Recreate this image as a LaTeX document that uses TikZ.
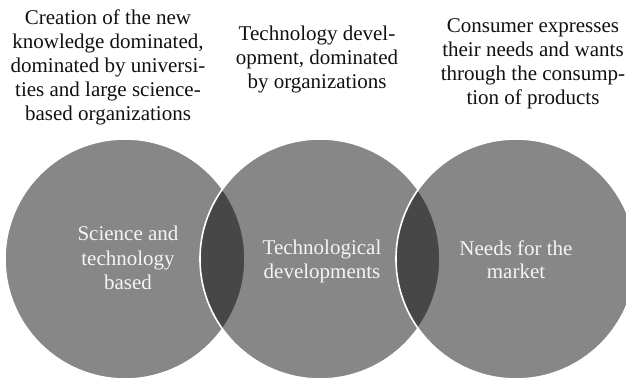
\documentclass[tikz,border=0pt]{standalone}
\usepackage{fontspec}
\setmainfont{Liberation Serif}
\usepackage{xcolor}
\usetikzlibrary{positioning}
\definecolor{ink}{HTML}{000000}
\definecolor{ring}{HTML}{FFFFFF}
\definecolor{inner}{HTML}{F4F4F4}
\definecolor{note}{HTML}{111111}
\tikzset{
  disc/.style={fill=ink, fill opacity=0.47, draw=ring, draw opacity=1, line width=1.6pt},
  lab/.style={text=inner, align=center, inner sep=0pt, font=\fontsize{21}{24}\selectfont},
  top/.style={text=note, align=center, inner sep=0pt, font=\fontsize{21}{24}\selectfont},
}

\begin{document}
\begin{tikzpicture}[x=1pt,y=-1pt]
  \clip (0,0) rectangle (626,379);
  \def\r{120pt}
  \coordinate (C1) at (125,259);
  \coordinate (C2) at (320,259);
  \coordinate (C3) at (516,259);
  \foreach \c in {C1,C2,C3}
    \draw[disc] (\c) circle[radius=\r];
  % labels inside the circles
  \node[lab, anchor=base] (sci) at (128,289) {Science and\\technology\\based};
  \node[lab, anchor=base] (tech) at (322,278) {Technological\\developments};
  \node[lab, anchor=base] (need) at (516,279) {Needs for the\\market};
  % notes above
  \node[top, anchor=base] (know) at (108,121) {Creation of the new\\knowledge dominated,\\dominated by universi-\\ties and large science-\\based organizations};
  \node[top, anchor=base] (org) at (317,89) {Technology devel-\\opment, dominated\\by organizations};
  \node[top, anchor=base] (cons) at (533,105) {Consumer expresses\\their needs and wants\\through the consump-\\tion of products};
\end{tikzpicture}
\end{document}
